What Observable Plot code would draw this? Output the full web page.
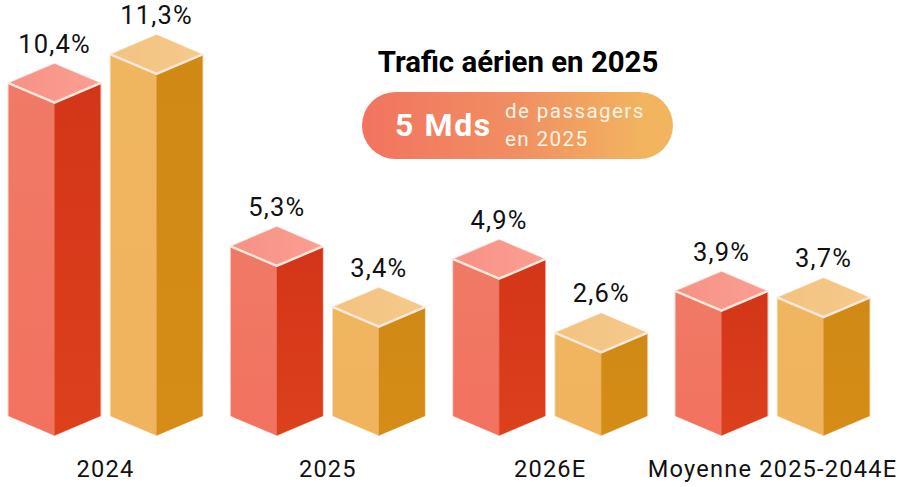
<!DOCTYPE html>
<html lang="fr">
<head>
<meta charset="utf-8">
<script src="https://cdn.jsdelivr.net/npm/d3@7"></script>
<script src="https://cdn.jsdelivr.net/npm/@observablehq/plot@0.6"></script>
<style>
html,body{margin:0;padding:0;background:#fff;overflow:hidden}
#wrap{position:relative;width:899px;height:487px;font-family:Roboto,sans-serif}
#wrap svg{display:block}
#title{position:absolute;left:318px;width:400px;top:43px;text-align:center;font-weight:700;font-size:29.4px;line-height:38px;color:#000}
#pill{position:absolute;left:362px;top:92px;width:311px;height:67px;border-radius:33.5px;background:linear-gradient(90deg,#f2735f 0%,#f08f62 50%,#f2b45f 90%);color:#fff}
#big{position:absolute;left:33px;top:13px;font-weight:700;font-size:32px;line-height:40px;letter-spacing:1.6px;white-space:nowrap}
#small{position:absolute;left:143px;top:5px;font-size:20.6px;line-height:28px;letter-spacing:1.4px;white-space:nowrap;color:#fff3e6}
</style>
</head>
<body>
<div id="wrap">
  <div id="title">Trafic aérien en 2025</div>
  <div id="pill"><div id="big">5 Mds</div><div id="small">de passagers<br>en 2025</div></div>
</div>
<script>
const categories = ["2024", "2025", "2026E", "Moyenne 2025-2044E"];
const redValues = [10.4, 5.3, 4.9, 3.9];
const orangeValues = [11.3, 3.4, 2.6, 3.7];

const pairGap = 0.459, halfWidth = 0.207, depth = 0.61;
const fmt = v => v.toFixed(1).replace(".", ",") + "%";

const bars = [
  ...redValues.map((value, g) => ({value, series: "red", cx: g})),
  ...orangeValues.map((value, g) => ({value, series: "orange", cx: g + pairGap}))
];
const left = bars.flatMap((b, id) => [
  {id, series: b.series, x: b.cx - halfWidth, y: depth},
  {id, series: b.series, x: b.cx, y: 0},
  {id, series: b.series, x: b.cx, y: b.value},
  {id, series: b.series, x: b.cx - halfWidth, y: b.value + depth}
]);
const right = bars.flatMap((b, id) => [
  {id, series: b.series, x: b.cx + halfWidth, y: depth},
  {id, series: b.series, x: b.cx, y: 0},
  {id, series: b.series, x: b.cx, y: b.value},
  {id, series: b.series, x: b.cx + halfWidth, y: b.value + depth}
]);
const top_ = bars.flatMap((b, id) => [
  {id, series: b.series, x: b.cx - halfWidth, y: b.value + depth},
  {id, series: b.series, x: b.cx, y: b.value},
  {id, series: b.series, x: b.cx + halfWidth, y: b.value + depth},
  {id, series: b.series, x: b.cx, y: b.value + 2 * depth}
]);
const edge = bars.flatMap((b, id) => [
  {id, series: b.series, x: b.cx - halfWidth, y: b.value + depth},
  {id, series: b.series, x: b.cx, y: b.value},
  {id, series: b.series, x: b.cx + halfWidth, y: b.value + depth}
]);
const only = (rows, s) => rows.filter(r => r.series === s);
const face = (rows, s, fill) => Plot.line(only(rows, s), {
  x: "x", y: "y", z: "id", fill, stroke: fill, strokeWidth: 1, strokeOpacity: 0.35, curve: "linear-closed"
});

const plot = Plot.plot({
  width: 899, height: 487,
  marginTop: 0, marginRight: 0, marginBottom: 0, marginLeft: 0,
  x: {axis: null, domain: [0, 3], range: [54, 721]},
  y: {axis: null, domain: [0, 12], range: [435, 51]},
  style: {fontFamily: "Roboto, sans-serif", background: "#fff", overflow: "visible"},
  marks: [
    () => {
      const defs = d3.create("svg:defs");
      const grad = (id, x2, y2, a, b) => {
        const g = defs.append("linearGradient").attr("id", id)
          .attr("x1", 0).attr("y1", 0).attr("x2", x2).attr("y2", y2);
        g.append("stop").attr("offset", 0).attr("stop-color", a);
        g.append("stop").attr("offset", 1).attr("stop-color", b);
      };
      grad("redL", 0, 1, "#f07a66", "#f2725e");
      grad("redR", 0, 1, "#d33518", "#dd401d");
      grad("redT", 1, 0, "#f79184", "#fa9f92");
      grad("orL", 0, 1, "#f0b55f", "#f1b45e");
      grad("orR", 0, 1, "#cf8914", "#d68d18");
      grad("orT", 1, 0, "#f3c27e", "#f5ca8c");
      return defs.node();
    },
    face(left, "red", "url(#redL)"),
    face(right, "red", "url(#redR)"),
    face(top_, "red", "url(#redT)"),
    face(left, "orange", "url(#orL)"),
    face(right, "orange", "url(#orR)"),
    face(top_, "orange", "url(#orT)"),
    Plot.line(edge, {x: "x", y: "y", z: "id", stroke: "#ffe9df", strokeWidth: 2.4, curve: "linear"}),
    Plot.text(bars, {
      x: "cx", y: d => d.value + 2 * depth, text: d => fmt(d.value),
      dy: -19, fontSize: 25.5, fill: "#111", lineAnchor: "middle", textAnchor: "middle"
    }),
    Plot.text(categories, {
      x: (d, i) => i + pairGap / 2, text: d => d, frameAnchor: "bottom",
      dy: -18, fontSize: 23.6, fill: "#111", lineAnchor: "middle"
    })
  ]
});
document.getElementById("wrap").prepend(plot);
plot.querySelectorAll("text").forEach(t => t.style.letterSpacing = "1.2px");
</script>
</body>
</html>
